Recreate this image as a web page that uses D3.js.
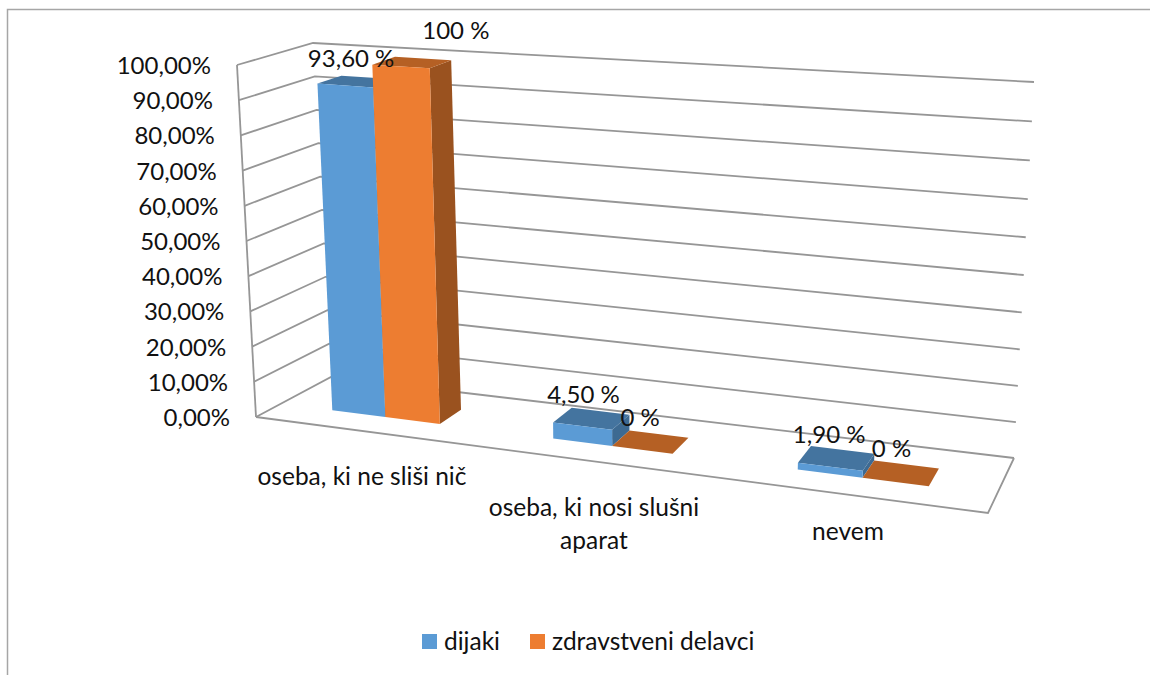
<!DOCTYPE html>
<html><head><meta charset="utf-8">
<script src="https://cdn.jsdelivr.net/npm/d3@7"></script>
<style>html,body{margin:0;padding:0;background:#fff}svg{display:block}text{font-family:Lato,"Open Sans",sans-serif;fill:#111}</style>
</head><body><svg id="c" width="1150" height="675"></svg>
<script>
const categories = [["oseba, ki ne sliši nič"], ["oseba, ki nosi slušni", "aparat"], ["nevem"]];
const seriesNames = ["dijaki", "zdravstveni delavci"];
const dijaki = [93.6, 4.5, 1.9];
const zdravstveni = [100, 0, 0];
const dijakiLabels = ["93,60 %", "4,50 %", "1,90 %"];
const zdravstveniLabels = ["100 %", "0 %", "0 %"];
const yTicks = [0, 10, 20, 30, 40, 50, 60, 70, 80, 90, 100];

const colors = [
  {front: "#5b9bd5", top: "#44749f", side: "#3d6a92"},
  {front: "#ed7d31", top: "#b56024", side: "#9a521f"}
];
const svg = d3.select("#c");

// projected corners of the chart box: [front/back][left/right][floor/top]
const box = {
  f: {l: [[256, 417], [237, 65]], r: [[988, 513], [1008, 117]]},
  b: {l: [[331, 377], [313, 43]], r: [[1014, 458], [1034, 82]]}
};
const yScale = d3.scaleLinear().domain([0, 100]).range([0, 1]);
const barHeight = d3.scaleLinear().domain([0, 100]).range([0, 1]);
// category axis with perspective widening to the right
const xScale = x => 0.284 * x + 0.01644 * x * x;
const mix = (a, b, t) => a + (b - a) * t;
function project(u, w, t) {
  const k = 1 - 0.052 * u;
  const tt = k * t / (1 + t * (k - 1));
  return [0, 1].map(i => {
    const fl = mix(mix(box.f.l[0][i], box.f.r[0][i], u), mix(box.b.l[0][i], box.b.r[0][i], u), w);
    const tp = mix(mix(box.f.l[1][i], box.f.r[1][i], u), mix(box.b.l[1][i], box.b.r[1][i], u), w);
    return mix(fl, tp, tt);
  });
}
const line = d3.line();
const gridColor = "#969696";

// walls
const grid = svg.append("g").attr("fill", "none").attr("stroke", gridColor).attr("stroke-width", 1.8);
grid.selectAll("path.g").data(yTicks).join("path").attr("class", "g")
  .attr("d", v => line([project(0, 0, yScale(v)), project(0, 1, yScale(v)), project(1, 1, yScale(v))]));
grid.append("path").attr("d", line([project(0, 0, 0), project(0, 0, 1)]));
grid.append("path").attr("d", line([project(0, 0, 0), project(1, 0, 0), project(1, 1, 0)]));

// bars
const barWidth = 0.25, wFront = 0.33, wBack = 0.66;
const allSeries = [dijaki, zdravstveni];
const allLabels = [dijakiLabels, zdravstveniLabels];
categories.forEach((_, ci) => {
  allSeries.forEach((vals, si) => {
    const x0 = xScale(ci + 0.5 + (si - 1) * barWidth);
    const x1 = xScale(ci + 0.5 + si * barWidth);
    const h = barHeight(vals[ci]);
    const g = svg.append("g");
    const c = colors[si];
    g.append("path").attr("fill", c.side)
      .attr("d", line([project(x1, wFront, 0), project(x1, wBack, 0), project(x1, wBack, h), project(x1, wFront, h)]) + "Z");
    g.append("path").attr("fill", c.top)
      .attr("d", line([project(x0, wFront, h), project(x1, wFront, h), project(x1, wBack, h), project(x0, wBack, h)]) + "Z");
    g.append("path").attr("fill", c.front)
      .attr("d", line([project(x0, wFront, 0), project(x1, wFront, 0), project(x1, wFront, h), project(x0, wFront, h)]) + "Z");
  });
});

// value axis labels
const fs = 24, fsWide = 24.5;
svg.append("g").selectAll("text").data(yTicks).join("text")
  .attr("text-anchor", "end").attr("font-size", fs).attr("dominant-baseline", "central")
  .attr("x", v => project(0, 0, yScale(v))[0] - 26)
  .attr("y", v => project(0, 0, yScale(v))[1] - 0.5)
  .text(v => v.toFixed(2).replace(".", ",") + "%");

// data labels
const labelOffsets = [[[6, -28], [1, -33], [-1, -33]], [[55, -37], [-2, -33], [-4, -34]]];
categories.forEach((_, ci) => {
  allSeries.forEach((vals, si) => {
    const xm = xScale(ci + 0.5 + (si - 0.5) * barWidth);
    const p = project(xm, wFront, barHeight(vals[ci]));
    svg.append("text").attr("text-anchor", "middle").attr("dominant-baseline", "central")
      .attr("font-size", fs)
      .attr("x", p[0] + labelOffsets[si][ci][0]).attr("y", p[1] + labelOffsets[si][ci][1])
      .text(allLabels[si][ci]);
  });
});

// category labels
const catOffsets = [[-1, 44], [-1, 45], [-3, 35]];
categories.forEach((lines, ci) => {
  const p = project(xScale(ci + 0.5), 0, 0);
  lines.forEach((t, li) => {
    svg.append("text").attr("text-anchor", "middle").attr("dominant-baseline", "central")
      .attr("font-size", fsWide).attr("x", p[0] + catOffsets[ci][0]).attr("y", p[1] + catOffsets[ci][1] + li * 33).text(t);
  });
});

// legend
const legendX = [422, 530];
seriesNames.forEach((n, i) => {
  svg.append("rect").attr("x", legendX[i]).attr("y", 634).attr("width", 15).attr("height", 15).attr("fill", colors[i].front);
  svg.append("text").attr("x", legendX[i] + 22).attr("y", 640).attr("dominant-baseline", "central").attr("font-size", fsWide).text(n);
});

// chart frame
svg.append("path").attr("fill", "none").attr("stroke", "#a6a6a6").attr("stroke-width", 1.5)
  .attr("d", line([[7.5, 675], [7.5, 9.5], [1150, 9.5]]));
</script></body></html>
